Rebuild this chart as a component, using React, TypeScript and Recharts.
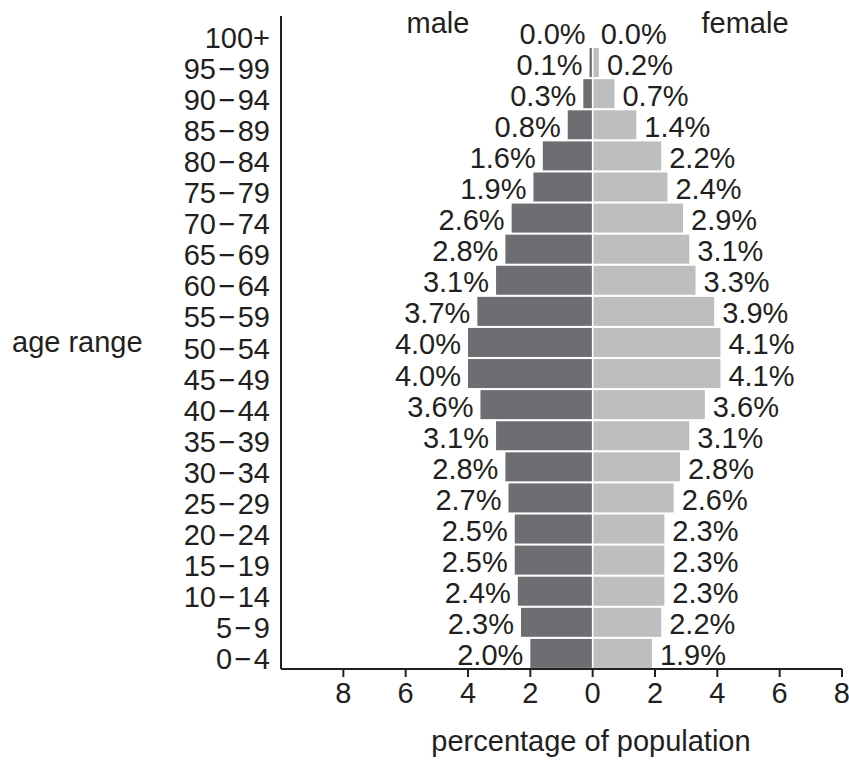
import React from "react";
import { BarChart, Bar, XAxis, YAxis, LabelList } from "recharts";

// youngest group first; the y axis is reversed so 0–4 sits at the bottom
const ageGroups = [
  "0\u200a\u2212\u200a4",
  "5\u200a\u2212\u200a9",
  "10\u200a\u2212\u200a14",
  "15\u200a\u2212\u200a19",
  "20\u200a\u2212\u200a24",
  "25\u200a\u2212\u200a29",
  "30\u200a\u2212\u200a34",
  "35\u200a\u2212\u200a39",
  "40\u200a\u2212\u200a44",
  "45\u200a\u2212\u200a49",
  "50\u200a\u2212\u200a54",
  "55\u200a\u2212\u200a59",
  "60\u200a\u2212\u200a64",
  "65\u200a\u2212\u200a69",
  "70\u200a\u2212\u200a74",
  "75\u200a\u2212\u200a79",
  "80\u200a\u2212\u200a84",
  "85\u200a\u2212\u200a89",
  "90\u200a\u2212\u200a94",
  "95\u200a\u2212\u200a99",
  "100+",
];
const malePct = [2.0, 2.3, 2.4, 2.5, 2.5, 2.7, 2.8, 3.1, 3.6, 4.0, 4.0, 3.7, 3.1, 2.8, 2.6, 1.9, 1.6, 0.8, 0.3, 0.1, 0.0];
const femalePct = [1.9, 2.2, 2.3, 2.3, 2.3, 2.6, 2.8, 3.1, 3.6, 4.1, 4.1, 3.9, 3.3, 3.1, 2.9, 2.4, 2.2, 1.4, 0.7, 0.2, 0.0];
const xTicks = [-8, -6, -4, -2, 0, 2, 4, 6, 8];

const INK = "#231f20";
const MALE = "#6d6e71";
const FEMALE = "#bcbec0";
const FONT = "'Liberation Sans', Arial, sans-serif";
const FS = 29;

const rows = ageGroups.map((age, i) => ({
  age,
  male: -malePct[i],
  female: femalePct[i],
  maleLabel: malePct[i],
  femaleLabel: femalePct[i],
}));

const fmt = (v: number) => `${Number(v).toFixed(1)}%`;

// leave a thin white seam at zero between the two halves
const MaleShape = (p: any) => {
  const left = Math.min(p.x, p.x + p.width);
  const w = Math.abs(p.width) - 0.8;
  if (w <= 0) return null;
  return <rect x={left} y={p.y} width={w} height={p.height} fill={MALE} />;
};

const FemaleShape = (p: any) => {
  const left = Math.min(p.x, p.x + p.width);
  const w = Math.abs(p.width) - 0.8;
  if (w <= 0) return null;
  return <rect x={left + 0.8} y={p.y} width={w} height={p.height} fill={FEMALE} />;
};

const MaleLabel = (p: any) => {
  const left = Math.min(p.x, p.x + p.width);
  return (
    <text x={left - 7} y={p.y + p.height / 2} dy={2} textAnchor="end" dominantBaseline="central" fontSize={FS} fill={INK} fontFamily={FONT}>
      {fmt(p.value)}
    </text>
  );
};

const FemaleLabel = (p: any) => {
  const right = Math.max(p.x, p.x + p.width);
  return (
    <text x={right + 8} y={p.y + p.height / 2} dy={2} textAnchor="start" dominantBaseline="central" fontSize={FS} fill={INK} fontFamily={FONT}>
      {fmt(p.value)}
    </text>
  );
};

const AgeTick = (p: any) => (
  <text x={p.x} y={p.y} dy={6} textAnchor="end" dominantBaseline="central" fontSize={FS} fill={INK} fontFamily={FONT}>
    {p.payload.value}
  </text>
);

export default function App() {
  return (
    <div style={{ position: "absolute", left: 0, top: 0, fontFamily: FONT }}>
      <BarChart
        width={849}
        height={760}
        data={rows}
        layout="vertical"
        stackOffset="sign"
        barCategoryGap={1}
        margin={{ top: 16, right: 7, bottom: 51, left: 0 }}
      >
        <XAxis
          type="number"
          domain={[-10, 8]}
          ticks={xTicks}
          allowDataOverflow
          tickFormatter={(v) => String(Math.abs(v))}
          height={40}
          axisLine={{ stroke: INK, strokeWidth: 2 }}
          tickLine={{ stroke: INK, strokeWidth: 2 }}
          tickSize={8}
          tickMargin={5}
          tick={{ fontSize: FS, fill: INK, fontFamily: FONT }}
        />
        <YAxis
          type="category"
          dataKey="age"
          reversed
          width={281}
          interval={0}
          axisLine={{ stroke: INK, strokeWidth: 2 }}
          tickLine={false}
          tickMargin={5}
          tick={AgeTick}
        />
        <Bar dataKey="male" stackId="pop" fill={MALE} shape={MaleShape} isAnimationActive={false}>
          <LabelList dataKey="maleLabel" content={MaleLabel} />
        </Bar>
        <Bar dataKey="female" stackId="pop" fill={FEMALE} shape={FemaleShape} isAnimationActive={false}>
          <LabelList dataKey="femaleLabel" content={FemaleLabel} />
        </Bar>
        <text x={438} y={33} textAnchor="middle" fontSize={FS} fill={INK} fontFamily={FONT}>male</text>
        <text x={745} y={33} textAnchor="middle" fontSize={FS} fill={INK} fontFamily={FONT}>female</text>
        <text x={12} y={352} textAnchor="start" fontSize={FS} fill={INK} fontFamily={FONT}>age range</text>
        <text x={591} y={751} textAnchor="middle" fontSize={FS} fill={INK} fontFamily={FONT}>percentage of population</text>
      </BarChart>
    </div>
  );
}
